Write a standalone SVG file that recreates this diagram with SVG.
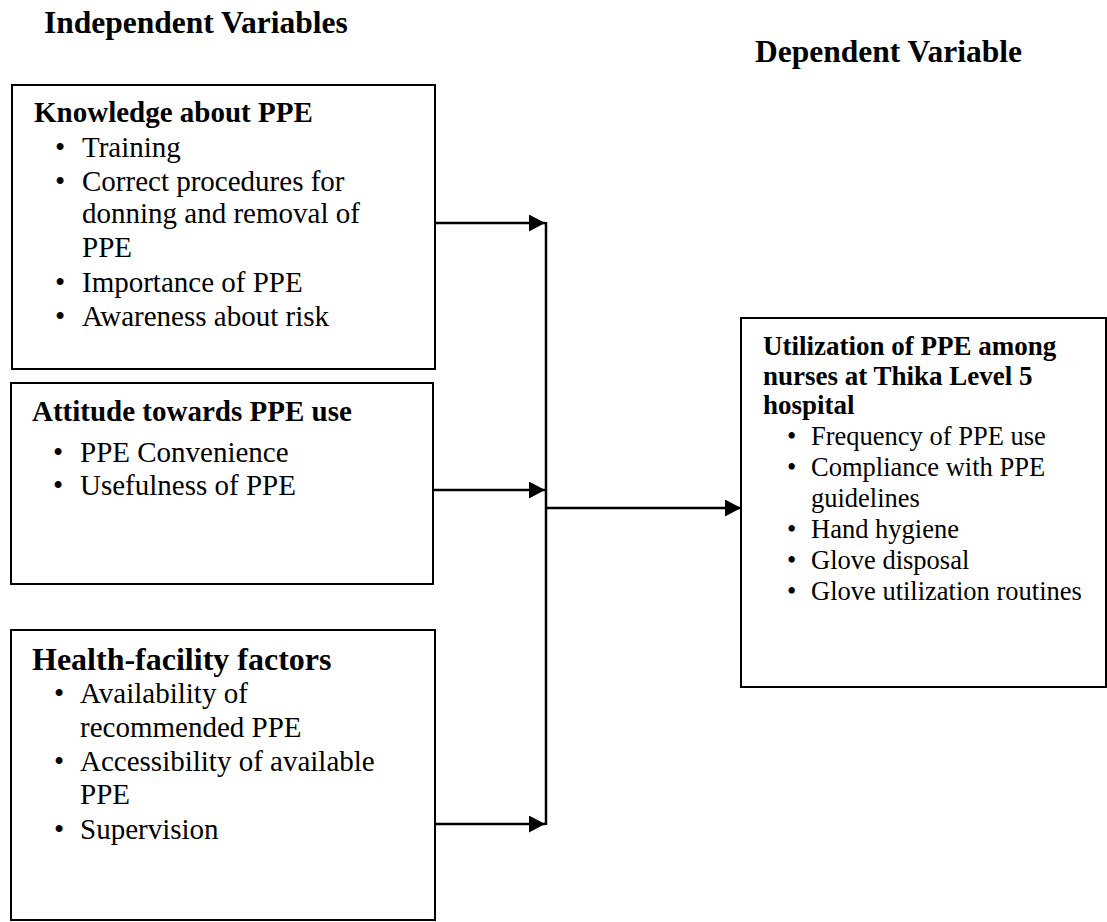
<svg xmlns="http://www.w3.org/2000/svg" width="1107" height="922" viewBox="0 0 1107 922">
<style>
.box{fill:#fff;stroke:#000;stroke-width:2}
.t{font-family:"Liberation Serif","Times New Roman",serif;fill:#000}
.title{font-size:31.5px;font-weight:bold}
.h{font-size:29px;font-weight:bold}
.h3{font-size:32px;font-weight:bold}
.b{font-size:29px}
.hd{font-size:27px;font-weight:bold}
.bd{font-size:26.5px}
.con{fill:none;stroke:#000;stroke-width:2.5}
</style>
<defs>
<marker id="arr" markerUnits="userSpaceOnUse" markerWidth="17" markerHeight="18" refX="16" refY="8.5" orient="auto">
<path d="M0,0 L16,8.5 L0,17 z" fill="#000"/>
</marker>
</defs>
<rect width="1107" height="922" fill="#fff"/>
<text class="t title" x="44" y="33">Independent Variables</text>
<text class="t title" x="755" y="62">Dependent Variable</text>

<g id="knowledge">
<rect class="box" x="12" y="85" width="423" height="284"/>
<text class="t h" x="34" y="122">Knowledge about PPE</text>
<text class="t b" x="55" y="157">•</text><text class="t b" x="82" y="157">Training</text>
<text class="t b" x="55" y="191">•</text><text class="t b" x="82" y="191">Correct procedures for</text>
<text class="t b" x="82" y="223">donning and removal of</text>
<text class="t b" x="82" y="257">PPE</text>
<text class="t b" x="55" y="292">•</text><text class="t b" x="82" y="292">Importance of PPE</text>
<text class="t b" x="55" y="326">•</text><text class="t b" x="82" y="326">Awareness about risk</text>
</g>

<g id="attitude">
<rect class="box" x="11" y="383" width="422" height="201"/>
<text class="t h" x="32" y="421">Attitude towards PPE use</text>
<text class="t b" x="53" y="462">•</text><text class="t b" x="80" y="462">PPE Convenience</text>
<text class="t b" x="53" y="495">•</text><text class="t b" x="80" y="495">Usefulness of PPE</text>
</g>

<g id="facility">
<rect class="box" x="11" y="630" width="424" height="290"/>
<text class="t h3" x="32" y="670">Health-facility factors</text>
<text class="t b" x="54" y="703">•</text><text class="t b" x="80" y="703">Availability of</text>
<text class="t b" x="80" y="737">recommended PPE</text>
<text class="t b" x="54" y="771">•</text><text class="t b" x="80" y="771">Accessibility of available</text>
<text class="t b" x="80" y="804">PPE</text>
<text class="t b" x="54" y="839">•</text><text class="t b" x="80" y="839">Supervision</text>
</g>

<g id="utilization">
<rect class="box" x="741" y="318" width="365" height="369"/>
<text class="t hd" x="763" y="355">Utilization of PPE among</text>
<text class="t hd" x="763" y="385">nurses at Thika Level 5</text>
<text class="t hd" x="763" y="414">hospital</text>
<text class="t bd" x="787" y="445">•</text><text class="t bd" x="811" y="445">Frequency of PPE use</text>
<text class="t bd" x="787" y="476">•</text><text class="t bd" x="811" y="476">Compliance with PPE</text>
<text class="t bd" x="811" y="507">guidelines</text>
<text class="t bd" x="787" y="538">•</text><text class="t bd" x="811" y="538">Hand hygiene</text>
<text class="t bd" x="787" y="569">•</text><text class="t bd" x="811" y="569">Glove disposal</text>
<text class="t bd" x="787" y="600">•</text><text class="t bd" x="811" y="600">Glove utilization routines</text>
</g>

<g id="connectors">
<line class="con" x1="546" y1="222" x2="546" y2="825"/>
<line class="con" x1="435" y1="223" x2="545" y2="223" marker-end="url(#arr)"/>
<line class="con" x1="433" y1="490" x2="545" y2="490" marker-end="url(#arr)"/>
<line class="con" x1="435" y1="824" x2="545" y2="824" marker-end="url(#arr)"/>
<line class="con" x1="546" y1="508" x2="741" y2="508" marker-end="url(#arr)"/>
</g>
</svg>
